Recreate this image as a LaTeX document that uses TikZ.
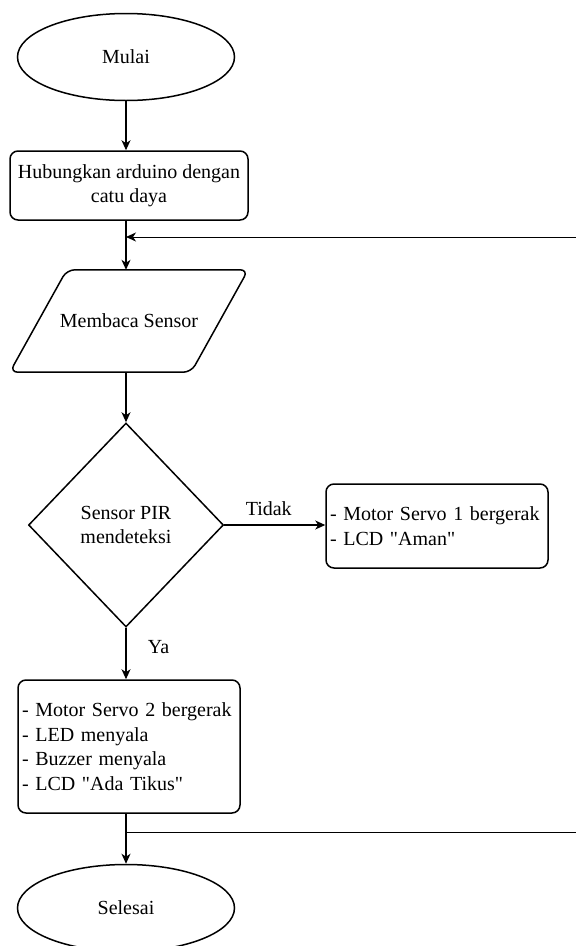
\documentclass[tikz,border=0pt]{standalone}
\usepackage{fontspec}
\setmainfont{Liberation Serif}
\usetikzlibrary{shapes.geometric,arrows.meta}
\tikzset{
  terminal/.style={draw, ellipse, line width=1.5pt, minimum width=217pt, minimum height=87pt, inner sep=0pt},
  proses/.style={draw, rectangle, rounded corners=8pt, line width=1.5pt, inner sep=0pt},
  masukan/.style={minimum width=238pt, minimum height=102pt, inner sep=0pt},
  garisbentuk/.style={line width=1.5pt, rounded corners=8pt},
  keputusan/.style={draw, diamond, line width=1.5pt, minimum width=195pt, minimum height=204pt, inner sep=0pt},
  panah/.style={-{Stealth[length=10pt,width=9pt,inset=3pt]}, line width=1.2pt},
}
\begin{document}
\begin{tikzpicture}[x=1pt, y=-1pt, font=\fontsize{20}{24.5}\selectfont]
  \useasboundingbox (0,0) rectangle (576,946);
  \clip (0,0) rectangle (576,946);
  % bentuk
  \node[terminal] (mulai) at (126,57) {Mulai};
  \node[proses, minimum width=238pt, minimum height=69pt, align=center] (hubung) at (129,185.5) {Hubungkan arduino dengan\\catu daya};
  \node[masukan] (baca) at (129,321) {Membaca Sensor};
  \draw[garisbentuk] ([xshift=57pt]baca.north west) -- (baca.north east)
    -- ([xshift=-57pt]baca.south east) -- (baca.south west) -- cycle;
  \node[keputusan, align=center] (cek) at (126,525) {Sensor PIR\\mendeteksi};
  \node[proses, minimum width=222pt, minimum height=84pt, text width=214pt, inner xsep=4pt, align=left] (aman) at (437,526) {- Motor Servo 1 bergerak\\- LCD \textquotedbl Aman\textquotedbl};
  \node[proses, minimum width=222pt, minimum height=133pt, text width=214pt, inner xsep=4pt, align=left] (aktif) at (129,746.5) {- Motor Servo 2 bergerak\\- LED menyala\\- Buzzer menyala\\- LCD \textquotedbl Ada Tikus\textquotedbl};
  \node[terminal] (selesai) at (126,908) {Selesai};
  \coordinate (gabung) at (126,237);
  \coordinate (balik) at (590,832);
  % garis
  \draw[panah] (mulai.south) -- (mulai.south |- hubung.north);
  \draw[panah] (gabung |- hubung.south) -- (gabung |- baca.north);
  \draw[panah] (gabung |- baca.south) -- (cek.north);
  \draw[panah] (cek.east) -- (cek.east -| aman.west) node[midway, above, xshift=-6pt, yshift=5pt] {Tidak};
  \draw[panah] (cek.south) -- (cek.south |- aktif.north) node[pos=0.38, anchor=west, xshift=18pt] {Ya};
  \draw[panah] (gabung |- aktif.south) -- (gabung |- selesai.north);
  \draw[panah, line width=1pt] (gabung |- balik) -- (balik) -- (balik |- gabung) -- (gabung);
\end{tikzpicture}
\end{document}
